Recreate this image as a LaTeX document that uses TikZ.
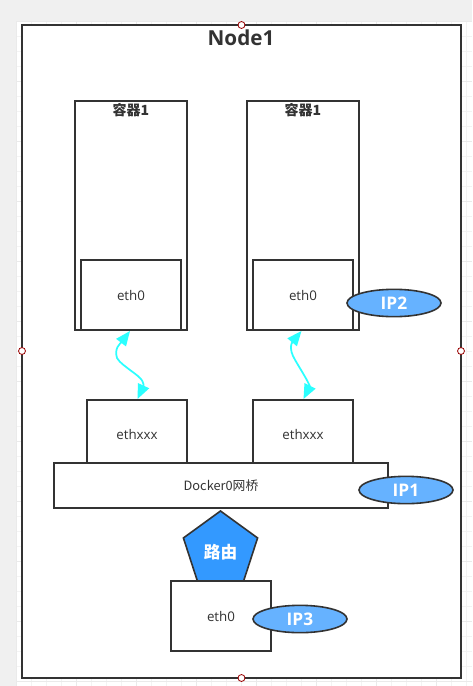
\documentclass[tikz,border=0pt]{standalone}
\usepackage{fontspec}
\setmainfont{Open Sans}
\newfontfamily\cjk{Noto Sans CJK SC}
\usetikzlibrary{shapes.geometric,arrows.meta}
\definecolor{ink}{HTML}{333333}
\definecolor{wire}{HTML}{2BFFFF}
\definecolor{ipblue}{HTML}{66B2FF}
\definecolor{routeblue}{HTML}{3399FF}
\definecolor{gridc}{HTML}{F3F3F3}
\definecolor{gridd}{HTML}{EAEAEA}
\tikzset{
 px/.style={x=0.75pt,y=-0.75pt},
 boxn/.style={draw=ink,line width=1.25pt,outer sep=0pt,fill=white,rectangle,anchor=north west,inner sep=0pt,text=ink,font=\fontsize{10pt}{12pt}\selectfont,align=center},
 ipn/.style={ellipse,draw=ink,line width=1.2pt,outer sep=0pt,fill=ipblue,inner sep=0pt,minimum width=70.5pt,minimum height=20.5pt,text=white,font=\fontsize{13pt}{15pt}\selectfont\bfseries},
 wirel/.style={draw=wire,line width=1.3pt,{Triangle[length=11pt,width=9pt]}-{Triangle[length=11pt,width=9pt]}},
 handle/.style={circle,draw=red!60!black,line width=0.6pt,fill=white,inner sep=0pt,minimum size=5.2pt},
 boxtitle/.style={inner sep=0pt,text=ink,font=\fontsize{10.5pt}{12pt}\selectfont\cjk\bfseries}
}
\newcommand{\bx}[6]{\node[boxn,minimum width=#4*0.75pt,minimum height=#5*0.75pt] (#1) at (#2,#3) {#6};}
\newcommand{\lowered}[2]{\raisebox{-#1}[0pt][0pt]{#2}}
\begin{document}
\begin{tikzpicture}[px]
\useasboundingbox (0,0) rectangle (472,686);
\fill[black!6] (0,0) rectangle (472,686);
\fill[white] (16,21) rectangle (472,686);
\foreach \x in {16,31,...,472} \draw[gridc,line width=0.5pt] (\x,21) -- (\x,686);
\foreach \y in {21,36,...,686} \draw[gridc,line width=0.5pt] (16,\y) -- (472,\y);
\foreach \x in {16,76,...,472} \draw[gridd,line width=0.5pt] (\x,21) -- (\x,686);
\foreach \y in {21,81,...,686} \draw[gridd,line width=0.5pt] (16,\y) -- (472,\y);
\bx{frame}{22}{25}{439}{653}{}
\node[inner sep=0pt,text=ink,font=\fontsize{15.5pt}{18pt}\selectfont\bfseries] (title) at (241,38) {Node1};
\bx{c1}{75}{101}{112}{229}{}
\bx{c2}{247}{101}{112}{229}{}
\node[boxtitle] (c1t) at (131,110) {容器1};
\node[boxtitle] (c2t) at (303,110) {容器1};
\bx{e1}{81}{260}{100}{70}{\lowered{4.3pt}{eth0}}
\bx{e2}{253}{260}{100}{70}{\lowered{4.3pt}{eth0}}
\bx{x1}{87}{400}{100}{63}{\lowered{6.3pt}{ethxxx}}
\bx{x2}{253}{400}{100}{63}{\lowered{6.3pt}{ethxxx}}
\bx{dock}{54}{463}{334}{45}{{\cjk\fontsize{9.6pt}{12pt}\selectfont\lowered{4pt}{Docker0网桥}}}
\node[regular polygon,regular polygon sides=5,draw=ink,line width=1.2pt,fill=routeblue,minimum size=58.5pt,inner sep=0pt] (route) at (220.5,550) {};
\node[inner sep=0pt,text=white,font=\fontsize{12.5pt}{14pt}\selectfont\cjk\bfseries] (routet) at (220.5,552) {路由};
\bx{e3}{171}{581}{100}{70}{\lowered{4.3pt}{eth0}}
\node[ipn] (ip2) at (394,303) {\lowered{5pt}{IP2}};
\node[ipn] (ip1) at (406,490) {\lowered{5pt}{IP1}};
\node[ipn] (ip3) at (300,619) {\lowered{5pt}{IP3}};
\coordinate (a1) at (130,331);
\coordinate (b1) at (137.5,399);
\coordinate (a2) at (301.5,331);
\coordinate (b2) at (303.5,399);
\draw[wirel] (a1) .. controls (120,344) and (114,348) .. (117,358) .. controls (120,363) and (125,366) .. (130,370) .. controls (134,373) and (137,375) .. (140,378) .. controls (145,383) and (143,387) .. (b1);
\draw[wirel] (a2) .. controls (294,340) and (288,345) .. (293,356) .. controls (296,362) and (300,368) .. (304,375) .. controls (307,380) and (310,386) .. (b2);
\node[handle] (h1) at (241.5,25) {};
\node[handle] (h2) at (22,351) {};
\node[handle] (h3) at (461,351) {};
\node[handle] (h4) at (241.5,678) {};
\end{tikzpicture}
\end{document}
